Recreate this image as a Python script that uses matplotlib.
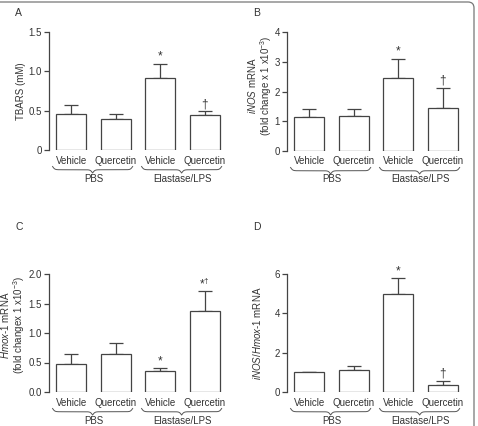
import matplotlib.pyplot as plt
import numpy as np
from matplotlib.patches import FancyBboxPatch
from matplotlib.transforms import blended_transform_factory

plt.rcParams['font.family'] = ['Liberation Sans', 'DejaVu Sans']
plt.rcParams['mathtext.fontset'] = 'custom'
plt.rcParams['mathtext.rm'] = 'Liberation Sans'
plt.rcParams['mathtext.it'] = 'Liberation Sans:italic'

# Data
treatments = ['Vehicle', 'Quercetin', 'Vehicle', 'Quercetin']
groups = ['PBS', 'Elastase/LPS']

tbars_mean = [0.46, 0.40, 0.91, 0.45]
tbars_err = [0.11, 0.06, 0.18, 0.04]
tbars_marks = ['', '', '*', '†']

inos_mean = [1.14, 1.18, 2.47, 1.45]
inos_err = [0.27, 0.23, 0.62, 0.68]
inos_marks = ['', '', '*', '†']

hmox_mean = [0.47, 0.65, 0.35, 1.38]
hmox_err = [0.18, 0.18, 0.05, 0.33]
hmox_marks = ['', '', '*', '*$^{†}$']

ratio_mean = [1.0, 1.11, 4.97, 0.37]
ratio_err = [0.0, 0.19, 0.81, 0.19]
ratio_marks = ['', '', '*', '†']

W, H = 478, 426
fig = plt.figure(figsize=(W / 100, H / 100), dpi=100)

# figure frame (top and right edge visible, rounded corner)
frame = FancyBboxPatch((-0.3, -0.3), 0.3 + 4.74, 0.3 + 4.24,
                       boxstyle='round,pad=0,rounding_size=0.06',
                       transform=fig.dpi_scale_trans, facecolor='none',
                       edgecolor='#777777', linewidth=0.9)
fig.add_artist(frame)

dark = '#333333'
fs = 7


def brace(ax, x0, x1, ytop, depth):
    trans = blended_transform_factory(ax.transData, ax.transAxes)
    n = 201
    x = np.linspace(x0, x1, n)
    half = x[:n // 2 + 1]
    beta = 40.0
    yh = 1 / (1 + np.exp(-beta * (half - half[0]))) + 1 / (1 + np.exp(-beta * (half - half[-1])))
    yb = np.concatenate((yh, yh[-2::-1]))
    y = ytop - depth * (yb - 0.5)
    ax.plot(x, y, transform=trans, color='#555555', lw=0.7, clip_on=False)


def panel(ax, means, errs, marks, ymax, ticks, ticklabels, ylabel, label_x, label_y, letter):
    x = np.arange(len(means))
    ax.bar(x, means, width=0.68, color='white', edgecolor='#444444', linewidth=0.9, zorder=2)
    ax.errorbar(x, means, yerr=[np.zeros(len(errs)), errs], fmt='none',
                ecolor='#444444', elinewidth=0.9, capsize=5, capthick=0.9, zorder=1)
    for xi, m, e, s in zip(x, means, errs, marks):
        if s:
            ax.annotate(s, (xi, m + e), xytext=(0, 1), textcoords='offset points',
                        ha='center', va='bottom', fontsize=8.5, color=dark)
    ax.set_xlim(-0.5, 3.5)
    ax.set_ylim(0, ymax)
    ax.set_yticks(ticks)
    ax.set_yticklabels(ticklabels)
    ax.set_xticks([])
    for side in ['top', 'right', 'bottom']:
        ax.spines[side].set_visible(False)
    ax.spines['left'].set_color('#444444')
    ax.spines['left'].set_linewidth(0.9)
    ax.tick_params(axis='y', direction='out', length=3.5, width=0.9, color='#444444',
                   labelsize=fs, labelcolor=dark, pad=1.5)
    ax.set_ylabel(ylabel, fontsize=fs, color=dark, linespacing=1.05, va='center')
    pos = ax.get_position()
    ax.yaxis.set_label_coords((label_x - pos.x0 * W) / (pos.width * W), label_y)

    ah = pos.height * H
    trans = blended_transform_factory(ax.transData, ax.transAxes)
    for xi, t in zip(x, treatments):
        ax.text(xi, -10.5 / ah, t, transform=trans, ha='center', va='center',
                fontsize=fs, color=dark)
    for gi, g in enumerate(groups):
        brace(ax, 2 * gi - 0.42, 2 * gi + 1.38, -16.5 / ah, 6.5 / ah)
        ax.text(2 * gi + 0.5, -28.5 / ah, g, transform=trans, ha='center', va='center',
                fontsize=fs, color=dark)

    fig.text(pos.x0 - 34 / W, pos.y1 + 19 / H if letter in 'AB' else pos.y1 + 47 / H,
             letter, fontsize=7.5, color=dark, ha='left', va='center')


axA = fig.add_axes([49 / W, 1 - 150 / H, 178 / W, 118 / H])
axB = fig.add_axes([287 / W, 1 - 151 / H, 178 / W, 119 / H])
axC = fig.add_axes([49 / W, 1 - 392 / H, 178 / W, 118 / H])
axD = fig.add_axes([287 / W, 1 - 392 / H, 178 / W, 118 / H])

panel(axA, tbars_mean, tbars_err, tbars_marks, 1.5, [0, 0.5, 1.0, 1.5],
      ['0', '0.5', '1.0', '1.5'], 'TBARS (mM)', 21, 0.5, 'A')
panel(axB, inos_mean, inos_err, inos_marks, 4, [0, 1, 2, 3, 4],
      ['0', '1', '2', '3', '4'],
      '$\\it{iNOS}$ mRNA\n(fold change x 1 x10$^{-3}$)', 260, 0.55, 'B')
panel(axC, hmox_mean, hmox_err, hmox_marks, 2.0, [0, 0.5, 1.0, 1.5, 2.0],
      ['0.0', '0.5', '1.0', '1.5', '2.0'],
      '$\\it{Hmox}$-$\\it{1}$ mRNA\n(fold changex 1 x10$^{-3}$)', 13, 0.57, 'C')
panel(axD, ratio_mean, ratio_err, ratio_marks, 6, [0, 2, 4, 6],
      ['0', '2', '4', '6'], '$\\it{iNOS/Hmox}$-$\\it{1}$ mRNA', 257, 0.5, 'D')

fig.savefig('out.png', dpi=100)
